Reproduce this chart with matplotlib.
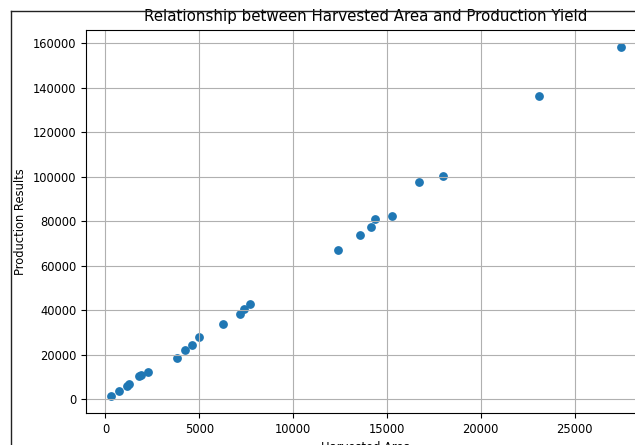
import matplotlib
matplotlib.use("Agg")
import matplotlib.pyplot as plt
from matplotlib.lines import Line2D

# harvested area vs production
harvested_area = [322, 713, 1163, 1249, 1806, 1892, 2267, 3806, 4234, 4594,
                  5000, 6271, 7198, 7381, 7681, 12420, 13560, 14130, 14380,
                  15260, 16690, 18010, 23100, 27450]
production = [1630, 3620, 6150, 6790, 10410, 10860, 12220, 18550, 22310, 24570,
              27870, 33570, 38100, 40360, 42620, 67200, 73800, 77500, 81100,
              82500, 97650, 100500, 136300, 158200]

DPI = 100
W, H = 635, 445
plt.rcParams['font.size'] = 8.3
fig = plt.figure(figsize=(W / DPI, H / DPI), dpi=DPI)

# the original screenshot is cropped: axes run past the right edge
ax = fig.add_axes([86 / W, 1 - 413 / H, 560 / W, (413 - 29.7) / H])
ax.scatter(harvested_area, production, s=28)
ax.set_title('Relationship between Harvested Area and Production Yield', fontsize=10.8)
ax.set_xlabel('Harvested Area')
ax.set_ylabel('Production Results')
ax.grid(True)

# outer frame of the original figure
fig.add_artist(Line2D([11 / W, 11 / W], [0, 1 - 11 / H], color='#222222', lw=1.0,
                      transform=fig.transFigure))
fig.add_artist(Line2D([11 / W, 1], [1 - 11 / H, 1 - 11 / H], color='#222222', lw=1.0,
                      transform=fig.transFigure))

fig.savefig('out.png', dpi=DPI)
